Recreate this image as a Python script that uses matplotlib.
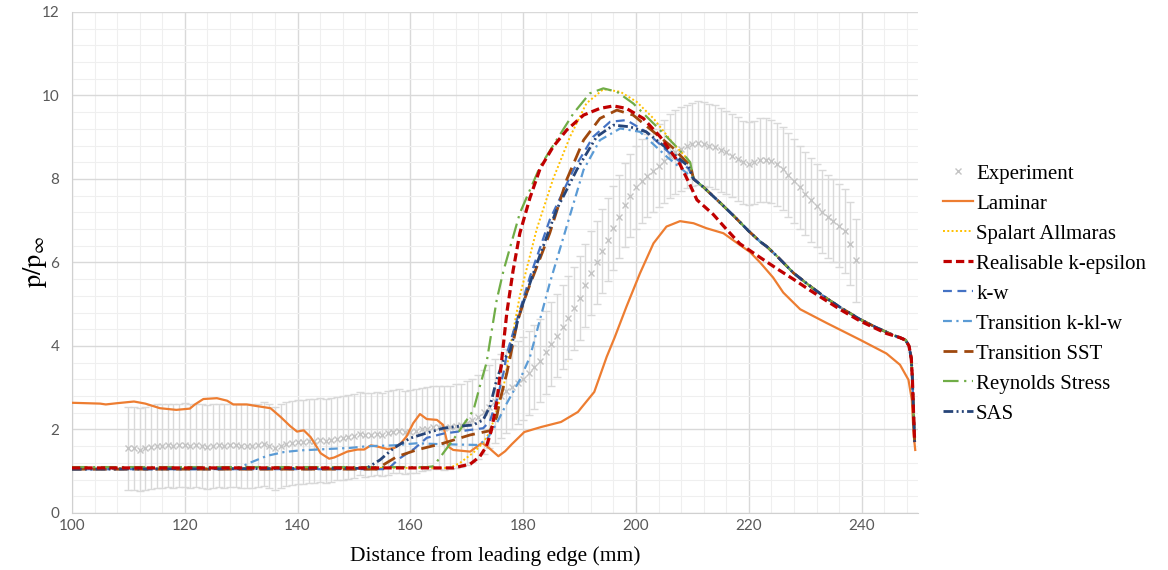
import numpy as np
import matplotlib
matplotlib.use("Agg")
import matplotlib.pyplot as plt
from matplotlib.ticker import MultipleLocator

plt.rcParams["mathtext.fontset"] = "stix"

# experiment (mean with +-1 error bars)
exp_x = list(range(110, 240))
exp_y = [1.55, 1.55, 1.52, 1.55, 1.58, 1.60, 1.60, 1.62, 1.60, 1.62,
	1.63, 1.60, 1.62, 1.60, 1.58, 1.60, 1.62, 1.60, 1.62, 1.62,
	1.60, 1.60, 1.60, 1.62, 1.65, 1.60, 1.55, 1.60, 1.65, 1.68,
	1.70, 1.70, 1.72, 1.72, 1.75, 1.72, 1.75, 1.78, 1.80, 1.82,
	1.85, 1.90, 1.87, 1.88, 1.90, 1.88, 1.92, 1.95, 1.97, 1.93,
	1.95, 1.97, 2.00, 2.02, 2.05, 2.05, 2.03, 2.05, 2.08, 2.10,
	2.15, 2.22, 2.30, 2.42, 2.55, 2.68, 2.80, 2.92, 3.02, 3.12,
	3.22, 3.35, 3.50, 3.65, 3.85, 4.05, 4.25, 4.45, 4.68, 4.90,
	5.15, 5.45, 5.75, 6.00, 6.28, 6.55, 6.82, 7.10, 7.38, 7.60,
	7.80, 7.95, 8.08, 8.20, 8.32, 8.42, 8.55, 8.65, 8.72, 8.78,
	8.83, 8.86, 8.84, 8.80, 8.76, 8.70, 8.64, 8.56, 8.48, 8.40,
	8.37, 8.40, 8.45, 8.46, 8.42, 8.35, 8.25, 8.10, 7.95, 7.80,
	7.65, 7.50, 7.36, 7.22, 7.10, 7.00, 6.88, 6.75, 6.45, 6.05]
exp_err = 1.0

laminar_x = [100, 105, 106, 108, 111, 113, 115.6, 118.5, 120.9, 121.8, 123.3, 125.7, 127.5, 128.6,
	131, 132.8, 135.2, 137, 138.7, 139.9, 141.1, 142.3, 144.1, 145.6, 146.5, 148.8, 150.6, 151.8,
	153, 154.2, 156, 157.2, 158.3, 159.3, 160.5, 161.7, 162.9, 164.7, 165.8, 166.7, 167.6, 170.6,
	172.7, 174, 175.6, 176.8, 178, 180.2, 183.2, 186.7, 189.7, 192.6, 194.8, 196.2, 198.3, 200.7,
	203.1, 205.4, 207.8, 210.2, 212.5, 215.5, 218.4, 220.2, 222, 224.3, 226.1, 229.1, 233.8,
	239.7, 244.4, 246.8, 248.3, 248.9, 249.2, 249.5]
laminar_y = [2.64, 2.62, 2.60, 2.63, 2.67, 2.62, 2.51, 2.47, 2.50, 2.60, 2.73, 2.75, 2.69, 2.60,
	2.60, 2.56, 2.51, 2.30, 2.08, 1.95, 1.98, 1.82, 1.43, 1.30, 1.33, 1.47, 1.52, 1.52,
	1.62, 1.59, 1.53, 1.56, 1.67, 1.83, 2.15, 2.37, 2.25, 2.23, 2.11, 1.59, 1.51, 1.47,
	1.68, 1.55, 1.36, 1.48, 1.65, 1.94, 2.06, 2.18, 2.42, 2.90, 3.74, 4.20, 4.94, 5.74,
	6.46, 6.86, 6.99, 6.94, 6.82, 6.70, 6.42, 6.25, 6.00, 5.64, 5.28, 4.88, 4.55,
	4.15, 3.82, 3.55, 3.19, 2.71, 1.91, 1.51]

# shared tail of the turbulence models after the kink near 210 mm
tail_x = [210.2, 212, 215, 217.3, 220, 222, 223.2, 225, 227.9, 231, 233.8, 236.5, 239.7,
	242.5, 245.6, 246.8, 247.8, 248.4, 248.8, 249.0, 249.2, 249.4]
tail_y = [8.00, 7.80, 7.42, 7.12, 6.75, 6.50, 6.38, 6.15, 5.75, 5.42, 5.14, 4.90, 4.64,
	4.45, 4.26, 4.20, 4.14, 4.00, 3.70, 3.20, 2.40, 1.70]

sa_x = [100, 167, 168.8, 171.2, 172.9, 174.1, 175.3, 176.5, 177.6, 179.4, 182.4, 185.3, 188.3,
	191.2, 194.2, 197.2, 200.1, 203.1, 206.6, 209.0, 209.6]
sa_y = [1.08, 1.08, 1.20, 1.45, 1.68, 1.95, 2.45, 3.00, 3.90, 5.20, 6.80, 8.00, 9.01,
	9.81, 10.15, 10.09, 9.85, 9.45, 8.85, 8.50, 8.38]

ke_x = [100, 167.6, 170.6, 172.3, 173.5, 174.4, 175.3, 175.9, 177.1, 178.2, 179.4, 181.2, 183,
	185.3, 187.7, 190.7, 193.6, 196, 198.3, 201.3, 204.3, 207.8, 209.6, 210.8, 213.7, 216,
	218.4, 222, 225, 227.9, 231, 233.8, 236.5, 239.7, 242.5, 244.4]
ke_y = [1.08, 1.08, 1.17, 1.35, 1.60, 2.00, 2.65, 3.30, 4.80, 5.80, 6.70, 7.55, 8.25,
	8.77, 9.17, 9.53, 9.69, 9.75, 9.69, 9.45, 9.01, 8.35, 7.85, 7.50, 7.15, 6.80,
	6.45, 6.12, 5.85, 5.60, 5.32, 5.08, 4.85, 4.60, 4.42, 4.30]

kw_x = [100, 156, 158, 160.7, 162.9, 165.8, 170.6, 172.9, 174.1, 175.3, 176.5, 177.1, 181.2,
	184.7, 188.9, 192.4, 195.4, 198.3, 201.8, 206.6, 209.3]
kw_y = [1.05, 1.05, 1.30, 1.54, 1.80, 1.90, 1.99, 2.03, 2.20, 2.70, 3.35, 3.82, 5.66,
	7.02, 8.22, 9.01, 9.37, 9.41, 9.13, 8.54, 8.25]

kklw_x = [100, 129.5, 131.5, 134.6, 137.6, 140.5, 145, 149.4, 152.4, 157, 161.1, 165, 171.8,
	173.5, 175.3, 177.1, 179.4, 181.2, 184.7, 187.7, 190.7, 193.6, 197.2, 200.7, 205.4, 209]
kklw_y = [1.05, 1.07, 1.20, 1.37, 1.46, 1.50, 1.53, 1.56, 1.60, 1.62, 1.67, 1.65, 1.63,
	1.75, 2.15, 2.63, 3.19, 3.74, 5.50, 6.86, 8.22, 8.93, 9.21, 9.13, 8.54, 8.14]

sst_x = [100, 154, 154.8, 157.6, 161.1, 165.8, 170.6, 174.1, 175.3, 175.9, 177.1, 177.7, 179,
	180.6, 184.7, 187.7, 190.7, 193.6, 196.6, 199.5, 203.1, 206.6, 209.0, 209.6]
sst_y = [1.05, 1.05, 1.12, 1.35, 1.51, 1.67, 1.87, 1.97, 2.30, 2.71, 3.35, 3.74, 4.60,
	5.26, 6.70, 7.98, 8.93, 9.45, 9.65, 9.53, 9.13, 8.74, 8.40, 8.35]

rs_x = [100, 163, 164.1, 164.7, 165.8, 168.2, 171.2, 172.3, 173.5, 175.3, 176.5, 179.4, 183,
	185.9, 188.9, 191.8, 194.2, 196.6, 199.5, 203.1, 206.6, 209.0, 209.6]
rs_y = [1.10, 1.10, 1.12, 1.23, 1.43, 1.87, 2.47, 3.03, 3.60, 5.10, 5.80, 7.18, 8.30,
	8.93, 9.57, 10.05, 10.17, 10.09, 9.81, 9.33, 8.85, 8.50, 8.40]

sas_x = [100, 152.2, 154.6, 157, 159.9, 163, 165.8, 168.8, 171.2, 172.9, 174.1, 175.3, 176.5,
	177.7, 179.4, 181.8, 185.9, 189.5, 193, 196, 198.9, 201.8, 206.6, 209.3]
sas_y = [1.05, 1.07, 1.27, 1.55, 1.79, 1.92, 2.03, 2.08, 2.11, 2.23, 2.55, 3.19, 3.66,
	3.90, 4.80, 5.74, 7.26, 8.22, 9.01, 9.29, 9.25, 9.13, 8.61, 8.30]

serif = "Liberation Serif"
fig = plt.figure(figsize=(11.68, 5.70), dpi=100)
ax = fig.add_axes([0.0616, 0.1, 0.7244, 0.879])

ax.errorbar(exp_x, exp_y, yerr=exp_err, fmt="none", ecolor="#D9D9D9", elinewidth=1,
	capsize=3, capthick=1, zorder=2)
ax.plot(exp_x, exp_y, linestyle="none", marker="x", color="#C4C4C4", markersize=5,
	markeredgewidth=1, label="Experiment", zorder=3)

ax.plot(laminar_x, laminar_y, color="#ED7D31", lw=1.6, label="Laminar", zorder=4)
ax.plot(sa_x + tail_x, sa_y + tail_y, color="#FFC000", lw=1.4, dashes=(1, 1.2),
	label="Spalart Allmaras", zorder=4)
ax.plot(ke_x + tail_x[-7:], ke_y + tail_y[-7:], color="#C00000", lw=2.3, dashes=(2.6, 1.3),
	label="Realisable k-epsilon", zorder=5)
ax.plot(kw_x + tail_x, kw_y + tail_y, color="#4472C4", lw=1.6, dashes=(4, 2.5),
	label="k-w", zorder=4)
ax.plot(kklw_x + tail_x, kklw_y + tail_y, color="#5B9BD5", lw=1.6, dashes=(4, 2, 1, 2),
	label="Transition k-kl-w", zorder=4)
ax.plot(sst_x + tail_x, sst_y + tail_y, color="#9E480E", lw=2.0, dashes=(5, 2.5),
	label="Transition SST", zorder=4)
ax.plot(rs_x + tail_x, rs_y + tail_y, color="#70AD47", lw=1.6, dashes=(7, 2.5, 1, 2.5),
	label="Reynolds Stress", zorder=4)
ax.plot(sas_x + tail_x, sas_y + tail_y, color="#264478", lw=2.0,
	dashes=(3.5, 1.2, 0.7, 1.2, 0.7, 1.2), label="SAS", zorder=4)

ax.set_xlim(100, 250)
ax.set_ylim(0, 12)
ax.set_xticks(range(100, 241, 20))
ax.set_yticks(range(0, 13, 2))
ax.xaxis.set_minor_locator(MultipleLocator(4))
ax.yaxis.set_minor_locator(MultipleLocator(0.4))
ax.grid(which="major", color="#D9D9D9", lw=1)
ax.grid(which="minor", color="#EFEFEF", lw=0.8)
ax.set_axisbelow(True)
ax.tick_params(which="both", length=0, labelsize=11, labelcolor="#595959")
ax.tick_params(axis="x", pad=4)
ax.tick_params(axis="y", pad=9)
for lab in ax.get_xticklabels() + ax.get_yticklabels():
	lab.set_fontfamily("Lato")
for s in ["top", "right"]:
	ax.spines[s].set_visible(False)
for s in ["left", "bottom"]:
	ax.spines[s].set_color("#D0D0D0")

ax.set_xlabel("Distance from leading edge (mm)", fontfamily=serif, fontsize=15.5, labelpad=10)
ax.set_ylabel(r"$\mathrm{p/p}_{\infty}$", fontsize=19, labelpad=-5)

fig.legend(loc="upper left", bbox_to_anchor=(0.800, 0.727), frameon=False,
	prop={"family": serif, "size": 15}, handlelength=1.45, handletextpad=0.15,
	labelspacing=0.5, borderaxespad=0)

plt.savefig("out.png", dpi=100)
